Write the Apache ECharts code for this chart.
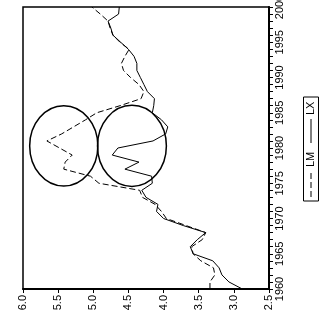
<!DOCTYPE html>
<html>
<head>
<meta charset="utf-8">
<script src="https://cdn.jsdelivr.net/npm/echarts@6/dist/echarts.min.js"></script>
<style>
	html, body { margin: 0; padding: 0; background: #fff; }
	#chart { width: 324px; height: 320px; }
</style>
</head>
<body>
<div id="chart"></div>
<script>
	// years along the (rotated) time axis
	var years = [
		1960, 1961, 1962, 1963, 1964, 1965, 1966, 1967, 1968, 1969,
		1970, 1971, 1972, 1973, 1974, 1975, 1976, 1977, 1978, 1979,
		1980, 1981, 1982, 1983, 1984, 1985, 1986, 1987, 1988, 1989,
		1990, 1991, 1992, 1993, 1994, 1995, 1996, 1997, 1998, 1999, 2000
	];

	// LM (dashed)
	var lm = [
		3.34, 3.34, 3.27, 3.29, 3.47, 3.58, 3.60, 3.45, 3.40, 3.68,
		3.96, 4.03, 4.12, 4.30, 4.34, 4.92, 5.04, 5.42, 5.40, 5.30,
		5.48, 5.66, 5.45, 5.28, 5.11, 4.95, 4.62, 4.32, 4.28, 4.35,
		4.47, 4.57, 4.60, 4.55, 4.49, 4.62, 4.72, 4.76, 4.79, 4.90, 5.02
	];

	// LX (solid)
	var lx = [
		2.88, 3.07, 3.17, 3.21, 3.30, 3.58, 3.62, 3.52, 3.40, 3.72,
		4.00, 4.10, 4.08, 4.25, 4.31, 4.16, 4.17, 4.55, 4.35, 4.73,
		4.65, 4.15, 3.97, 3.94, 4.03, 4.16, 4.14, 4.13, 4.23, 4.28,
		4.33, 4.38, 4.38, 4.42, 4.50, 4.61, 4.72, 4.75, 4.79, 4.64, 4.63
	];

	// the two highlighted regions: centre value, centre year, width, height
	var circleValue = [5.42, 4.45];
	var circleYear = [1980.3, 1980.3];
	var circleWidth = [0.97, 0.98];
	var circleHeight = [11.4, 11.5];

	var font = 'Liberation Sans, Arial, sans-serif';

	function pairs(vals) {
		var out = [];
		for (var i = 0; i < years.length; i++) {
			out.push([vals[i], years[i]]);
		}
		return out;
	}

	var circles = [];
	for (var i = 0; i < circleValue.length; i++) {
		circles.push([circleValue[i], circleYear[i], circleWidth[i], circleHeight[i]]);
	}

	var myChart = echarts.init(document.getElementById('chart'), null, { renderer: 'canvas' });

	var option = {
		backgroundColor: '#fff',
		animation: false,
		grid: {
			left: 23,
			right: 55,
			top: 7,
			bottom: 31,
			outerBoundsMode: 'none',
			show: true,
			borderColor: '#000',
			borderWidth: 1.5
		},
		xAxis: {
			type: 'value',
			min: 2.5,
			max: 6.0,
			interval: 0.5,
			inverse: true,
			splitLine: { show: false },
			axisLine: { show: true, lineStyle: { color: '#000', width: 2 } },
			axisTick: { show: true, length: 4, lineStyle: { color: '#000' } },
			axisLabel: {
				rotate: 90,
				margin: 6,
				color: '#000',
				fontSize: 11,
				fontFamily: font,
				formatter: function (v) { return v.toFixed(1); }
			}
		},
		yAxis: {
			type: 'value',
			position: 'right',
			min: 1960,
			max: 2000,
			interval: 5,
			splitLine: { show: false },
			axisLine: { show: true, lineStyle: { color: '#000', width: 2 } },
			axisTick: { show: true, length: 4, lineStyle: { color: '#000' } },
			minorTick: { show: true, splitNumber: 5, length: 4, lineStyle: { color: '#000' } },
			axisLabel: {
				rotate: 90,
				margin: 5,
				color: '#000',
				fontSize: 11,
				fontFamily: font,
				formatter: function (v) { return String(v); }
			}
		},
		series: [
			{
				name: 'LM',
				type: 'line',
				data: pairs(lm),
				showSymbol: false,
				lineStyle: { color: '#000', width: 1, type: [6, 3] }
			},
			{
				name: 'LX',
				type: 'line',
				data: pairs(lx),
				showSymbol: false,
				lineStyle: { color: '#000', width: 1 }
			},
			{
				type: 'custom',
				data: circles,
				renderItem: function (params, api) {
					var c = api.coord([api.value(0), api.value(1)]);
					var s = api.size([api.value(2), api.value(3)], [api.value(0), api.value(1)]);
					return {
						type: 'ellipse',
						shape: { cx: c[0], cy: c[1], rx: s[0] / 2, ry: s[1] / 2 },
						style: { fill: 'transparent', stroke: '#000', lineWidth: 1.5 }
					};
				}
			}
		],
		// legend box, turned to read upward like the rest of the chart
		graphic: [
			{
				type: 'group',
				x: 311,
				y: 149,
				rotation: Math.PI / 2,
				children: [
					{ type: 'rect', shape: { x: -52, y: -7.5, width: 104, height: 15 },
						style: { fill: '#fff', stroke: '#000', lineWidth: 1 } },
					{ type: 'line', shape: { x1: -48, y1: 0, x2: -22, y2: 0 },
						style: { stroke: '#000', lineWidth: 1, lineDash: [6, 3] } },
					{ type: 'text', x: -18, y: 0,
						style: { text: 'LM', fill: '#000', font: '11px ' + font, verticalAlign: 'middle', align: 'left' } },
					{ type: 'line', shape: { x1: 6, y1: 0, x2: 30, y2: 0 },
						style: { stroke: '#000', lineWidth: 1 } },
					{ type: 'text', x: 34, y: 0,
						style: { text: 'LX', fill: '#000', font: '11px ' + font, verticalAlign: 'middle', align: 'left' } }
				]
			}
		]
	};

	myChart.setOption(option);
</script>
</body>
</html>
